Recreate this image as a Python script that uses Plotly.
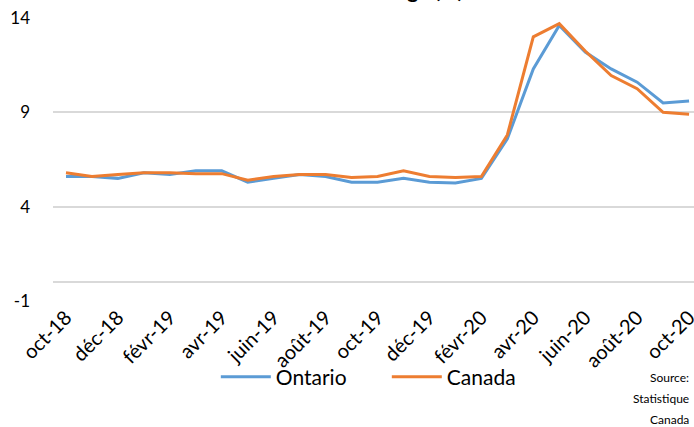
import plotly.graph_objects as go

months = ["oct-18", "nov-18", "déc-18", "janv-19", "févr-19", "mars-19", "avr-19",
          "mai-19", "juin-19", "juil-19", "août-19", "sept-19", "oct-19", "nov-19",
          "déc-19", "janv-20", "févr-20", "mars-20", "avr-20", "mai-20", "juin-20",
          "juil-20", "août-20", "sept-20", "oct-20"]
ontario = [5.6, 5.6, 5.5, 5.8, 5.7, 5.9, 5.9, 5.3, 5.5, 5.7, 5.6, 5.3, 5.3, 5.5,
           5.3, 5.25, 5.5, 7.6, 11.3, 13.6, 12.2, 11.3, 10.6, 9.5, 9.6]
canada = [5.8, 5.6, 5.7, 5.8, 5.8, 5.75, 5.75, 5.4, 5.6, 5.7, 5.7, 5.55, 5.6, 5.9,
          5.6, 5.55, 5.6, 7.8, 13.0, 13.7, 12.25, 10.95, 10.25, 9.0, 8.9]
tick_labels = months[::2]
y_ticks = [-1, 4, 9, 14]
y_tick_text = ["-1", "4", "9", "14"]
title_text = "Taux de chômage (%)"
source_lines = ["Source:", "Statistique", "Canada"]

FONT = "Lato"
fig = go.Figure()
fig.add_trace(go.Scatter(x=months, y=ontario, mode="lines", name="Ontario",
                         line=dict(color="#5B9BD5", width=3)))
fig.add_trace(go.Scatter(x=months, y=canada, mode="lines", name="Canada",
                         line=dict(color="#ED7D31", width=3)))

fig.update_layout(
    width=694, height=427,
    margin=dict(l=53, r=0, t=18, b=126, autoexpand=False),
    paper_bgcolor="white", plot_bgcolor="white",
    font=dict(family=FONT, size=17, color="#000000"),
    showlegend=True,
    legend=dict(orientation="h", x=0.254, y=-0.269, xanchor="left", yanchor="middle",
                font=dict(size=21), bgcolor="rgba(0,0,0,0)", tracegroupgap=0,
                itemwidth=50, entrywidth=106, entrywidthmode="pixels"),
    xaxis=dict(type="category", categoryorder="array", categoryarray=months,
               range=[-0.5, 24.19], tickmode="array", tickvals=tick_labels,
               ticktext=tick_labels, tickangle=-45, showgrid=False,
               showline=False, zeroline=False, ticks="", automargin=False,
               tickfont=dict(size=20, family=FONT)),
    yaxis=dict(range=[-1, 14], tickmode="array", tickvals=y_ticks,
               ticktext=y_tick_text,
               showgrid=True, gridcolor="#d9d9d9", gridwidth=1.5,
               zeroline=True, zerolinecolor="#d9d9d9", zerolinewidth=1.5,
               showline=False, ticks="", ticklabelstandoff=22, automargin=False,
               tickfont=dict(size=17, family=FONT)),
)

fig.add_annotation(text="<b>" + title_text + "</b>", xref="paper", yref="paper",
                   x=0.487, y=1, xanchor="center", yanchor="bottom", yshift=14,
                   showarrow=False, font=dict(size=21, family=FONT))
for i, line in enumerate(source_lines):
    fig.add_annotation(text=line, xref="paper", yref="paper", x=1, y=-0.269,
                       xanchor="right", yanchor="middle", yshift=-21 * i, xshift=-3,
                       showarrow=False, font=dict(size=12, family=FONT))

fig.write_html("out.html", config={"displayModeBar": False},
               post_script="document.body.style.margin='0';")
